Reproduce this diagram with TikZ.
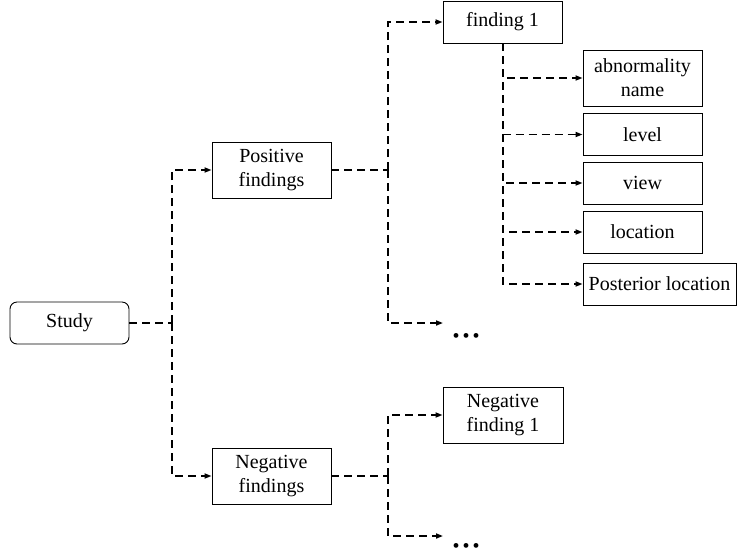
\documentclass[tikz,border=0pt]{standalone}
\usepackage{fontspec}
\setmainfont{Liberation Serif}
\usetikzlibrary{arrows.meta}
\begin{document}
\begin{tikzpicture}[x=1pt,y=-1pt,
  box/.style={draw, line width=0.9pt, minimum width=119pt, minimum height=42pt, inner sep=2pt, align=center, font=\fontsize{20}{24}\selectfont},
  tallbox/.style={box, minimum height=56pt},
  conn/.style={line width=1.6pt, dash pattern=on 8pt off 5pt},
  arr/.style={conn, -{Triangle[length=7pt,width=5pt]}},
  dots/.style={font=\fontsize{20}{24}\selectfont, inner sep=0pt}
]
\useasboundingbox (0,0) rectangle (737,558);
\node[box, rounded corners=7pt] (study) at (69.5,323) {Study};
\node[tallbox] (pos) at (271.5,170) {Positive\\findings};
\node[tallbox] (neg) at (271.5,476) {Negative\\findings};
\node[box] (f1) at (502.5,22) {finding 1};
\node[tallbox] (abn) at (642.5,78) {abnormality\\name};
\node[box] (lev) at (642.5,134.5) {level};
\node[box] (view) at (642.5,183) {view};
\node[box] (loc) at (642.5,232) {location};
\node[box, minimum width=153pt] (post) at (659.5,284) {Posterior location};
\node[tallbox, minimum width=120pt] (nf1) at (503,415) {Negative\\finding 1};
\node[dots] (d1) at (466,338) {\textbullet\hspace{3pt}\textbullet\hspace{3pt}\textbullet};
\node[dots] (d2) at (466,548) {\textbullet\hspace{3pt}\textbullet\hspace{3pt}\textbullet};
\coordinate (e1) at (443,323);
\coordinate (e2) at (443,536);
% Study bus
\coordinate (b0) at (172,323);
\draw[conn] (study.east) -- (b0);
\draw[arr] (b0) |- (pos.west);
\draw[arr] (b0) |- (neg.west);
% Positive bus
\coordinate (b1) at (388,170);
\draw[conn] (pos.east) -- (b1);
\draw[arr] (b1) |- (f1.west);
\draw[arr] (b1) |- (e1);
% Negative bus
\coordinate (b2) at (388,476);
\draw[conn] (neg.east) -- (b2);
\draw[arr] (b2) |- (nf1.west);
\draw[arr] (b2) |- (e2);
% finding 1 bus
\coordinate (b3) at (503,43);
\draw[arr] (b3) |- (abn.west);
\draw[arr] (b3) |- (lev.west);
\draw[arr] (b3) |- (view.west);
\draw[arr] (b3) |- (loc.west);
\draw[arr] (b3) |- (post.west);
\end{tikzpicture}
\end{document}
